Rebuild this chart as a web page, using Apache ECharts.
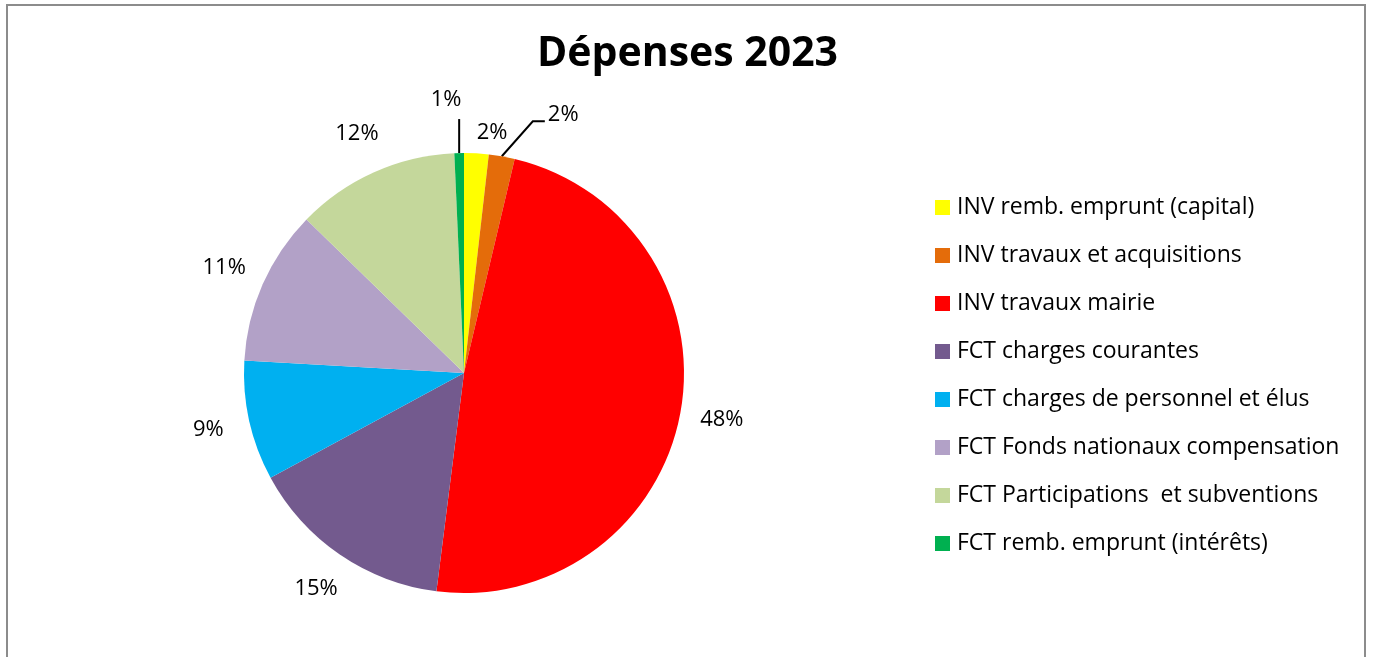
<!DOCTYPE html>
<html>
<head>
<meta charset="utf-8">
<script src="https://cdn.jsdelivr.net/npm/echarts@6/dist/echarts.min.js"></script>
<style>
  html, body { margin: 0; padding: 0; background: #fff; }
  #frame { position: absolute; left: 6px; top: 4px; width: 1360px; height: 700px; border: 2px solid #8c8c8c; box-sizing: border-box; }
  #chart { position: absolute; left: 0; top: 0; width: 1375px; height: 657px; }
</style>
</head>
<body>
<div id="frame"></div>
<div id="chart"></div>
<script>
const categories = [
  'INV remb. emprunt (capital)',
  'INV travaux et acquisitions',
  'INV travaux mairie',
  'FCT charges courantes',
  'FCT charges de personnel et élus',
  'FCT Fonds nationaux compensation',
  'FCT Participations  et subventions',
  'FCT remb. emprunt (intérêts)'
];
const values = [1.8, 1.9, 48.3, 15.1, 8.8, 11.4, 12.0, 0.7];
const colors = ['#FFFF00', '#E46C0A', '#FF0000', '#735A8E', '#00B0F0', '#B2A1C7', '#C4D79B', '#00B050'];

const cx = 464, cy = 373, r = 220;
const total = values.reduce((a, b) => a + b, 0);
const mids = [];
let acc = 0;
values.forEach(v => { mids.push((acc + v / 2) / total * 2 * Math.PI); acc += v; });

const chart = echarts.init(document.getElementById('chart'));
const font = '"Open Sans", Lato, sans-serif';
const option = {
  animation: false,
  title: {
    text: 'Dépenses 2023',
    left: 'center', top: 29,
    textStyle: { fontFamily: font, fontSize: 41, fontWeight: 'bold', color: '#000' }
  },
  legend: {
    orient: 'vertical',
    left: 930, top: 191,
    itemWidth: 15, itemHeight: 15, itemGap: 25,
    icon: 'rect',
    textStyle: { fontFamily: font, fontSize: 23, color: '#000', lineHeight: 23, padding: [0, 0, 0, 2] },
    data: categories
  },
  series: [{
    type: 'pie',
    center: [cx, cy],
    radius: r,
    startAngle: 90,
    clockwise: true,
    avoidLabelOverlap: false,
    itemStyle: { borderWidth: 0 },
    emphasis: { disabled: true },
    label: {
      show: true,
      position: 'outside',
      formatter: p => Math.round(p.percent) + '%',
      fontFamily: font, fontSize: 22, color: '#000'
    },
    labelLine: { show: false },
    labelLayout: function (p) {
      const i = p.dataIndex;
      const a = mids[i];
      let R = 262;
      if (i === 0) { const b = a + 0.06; return { x: cx + 242 * Math.sin(b), y: cy - 242 * Math.cos(b), align: 'center', verticalAlign: 'middle' }; }
      if (i === 1) {
        const ex = cx + r * Math.sin(a), ey = cy - r * Math.cos(a);
        return {
          x: ex + 46, y: ey - 42, align: 'left', verticalAlign: 'middle',
          labelLinePoints: [[ex, ey], [ex + 31, ey - 35], [ex + 43, ey - 35]]
        };
      }
      if (i === 7) {
        const ex = cx + r * Math.sin(a), ey = cy - r * Math.cos(a);
        return {
          x: ex - 13, y: ey - 53, align: 'center', verticalAlign: 'middle',
          labelLinePoints: [[ex, ey], [ex, ey - 34], [ex, ey - 34]]
        };
      }
      return { x: cx + R * Math.sin(a), y: cy - R * Math.cos(a), align: 'center', verticalAlign: 'middle' };
    },
    data: categories.map((c, i) => ({
      name: c, value: values[i],
      itemStyle: { color: colors[i] },
      labelLine: { show: i === 1 || i === 7, lineStyle: { color: '#000', width: 2 } }
    }))
  }]
};
chart.setOption(option);
</script>
</body>
</html>
